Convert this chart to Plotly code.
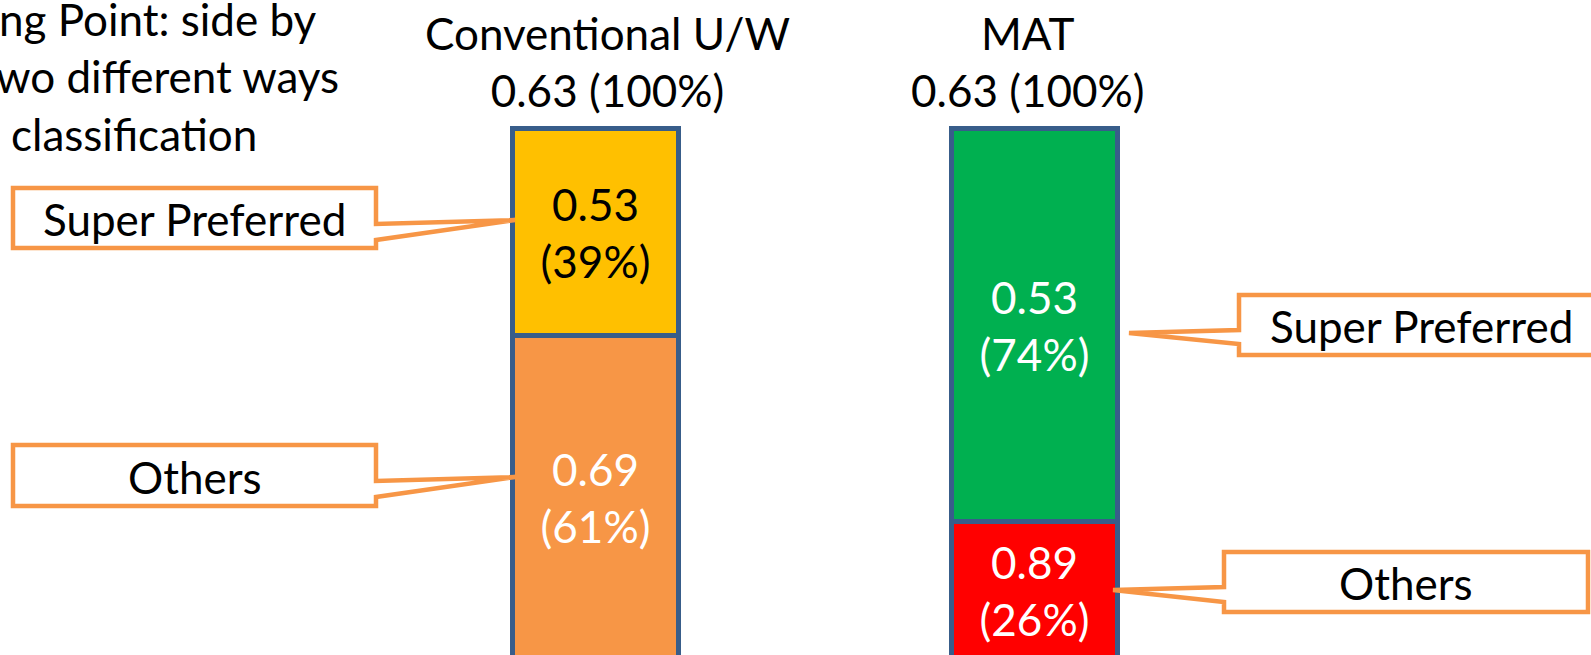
import plotly.graph_objects as go

# Underwriting classes compared side by side
categories = ["Conventional U/W", "MAT"]
total_score = [0.63, 0.63]
total_pct = [100, 100]

super_pref_score = [0.53, 0.53]
super_pref_pct = [39, 74]

others_score = [0.69, 0.89]
others_pct = [61, 26]

W, H = 1591, 655
FONT = "Lato"
FS = 44
ORANGE = "#F79646"
EDGE = "#385D8A"


def px_x(v):
    return v / W


def px_y(v):
    return 1 - v / H


fig = go.Figure()

# bottom segment: Others
fig.add_trace(go.Bar(
    x=categories, y=others_pct,
    marker=dict(color=["#F79646", "#FF0000"], line=dict(color=EDGE, width=5)),
    text=[f"{s:.2f}<br>({p}%)" for s, p in zip(others_score, others_pct)],
    textposition="inside", insidetextanchor="middle", textangle=0,
    textfont=dict(family=FONT, size=FS, color=["white", "white"]),
    width=0.378, hoverinfo="skip",
))
# top segment: Super Preferred
fig.add_trace(go.Bar(
    x=categories, y=super_pref_pct,
    marker=dict(color=["#FFC000", "#00B050"], line=dict(color=EDGE, width=5)),
    text=[f"{s:.2f}<br>({p}%)" for s, p in zip(super_pref_score, super_pref_pct)],
    textposition="inside", insidetextanchor="middle", textangle=0,
    textfont=dict(family=FONT, size=FS, color=["black", "white"]),
    width=0.378, hoverinfo="skip",
))

annotations = []
shapes = []

# column headings
title_shift = [12, -7]
for cat, s, p, dx in zip(categories, total_score, total_pct, title_shift):
    annotations.append(dict(
        x=cat, xref="x", y=px_y(62), yref="paper", yanchor="middle",
        text=f"{cat}<br>{s:.2f} ({p}%)", showarrow=False, xshift=dx,
        font=dict(family=FONT, size=FS, color="black"), align="center",
    ))

# heading text at top-left
for txt, x0, yc in [("ng Point: side by", -3, 19),
                    ("wo different ways", -6, 76),
                    ("classification", 9, 134)]:
    annotations.append(dict(
        x=px_x(x0), xref="paper", xanchor="left",
        y=px_y(yc), yref="paper", yanchor="middle",
        text=txt, showarrow=False,
        font=dict(family=FONT, size=FS, color="black"),
    ))


def callout(label, left, right, top, bottom, n1, n2, tip, side):
    tx, ty = tip
    if side == "right":
        pts = [(left, top), (right, top), (right, n1), (tx, ty), (right, n2),
               (right, bottom), (left, bottom)]
    else:
        pts = [(left, top), (right, top), (right, bottom), (left, bottom),
               (left, n2), (tx, ty), (left, n1)]
    path = "M " + " L ".join(f"{px_x(a):.5f},{px_y(b):.5f}" for a, b in pts) + " Z"
    shapes.append(dict(type="path", xref="paper", yref="paper", path=path,
                       line=dict(color=ORANGE, width=4.5), fillcolor="white",
                       layer="above"))
    annotations.append(dict(
        x=px_x((left + right) / 2), xref="paper", xanchor="center",
        y=px_y((top + bottom) / 2 + 1), yref="paper", yanchor="middle",
        text=label, showarrow=False,
        font=dict(family=FONT, size=FS, color="black"),
    ))


callout("Super Preferred", 13, 376, 188, 248, 224, 240, (515, 220), "right")
callout("Others", 13, 376, 445, 506, 481, 497, (515, 477), "right")
callout("Super Preferred", 1239, 1603, 295, 355, 330, 344, (1129, 333), "left")
callout("Others", 1224, 1588, 552, 612, 587, 602, (1113, 590), "left")

# axis scale: 100% at the top edge of the bars, 0 just below the lower border
top_px, base_px = 128.5, 660.0
per_unit = (base_px - top_px) / 100.0
y_lo = (base_px - H) / per_unit
y_hi = base_px / per_unit

unit_px = 439.0
x_lo = -595.5 / unit_px
x_hi = (W - 595.5) / unit_px

fig.update_layout(
    width=W, height=H,
    margin=dict(l=0, r=0, t=0, b=0),
    barmode="stack", showlegend=False,
    plot_bgcolor="white", paper_bgcolor="white",
    xaxis=dict(visible=False, range=[x_lo, x_hi], type="category"),
    yaxis=dict(visible=False, range=[y_lo, y_hi]),
    annotations=annotations, shapes=shapes,
    uniformtext=dict(mode=False),
)

fig.write_html("out.html")
